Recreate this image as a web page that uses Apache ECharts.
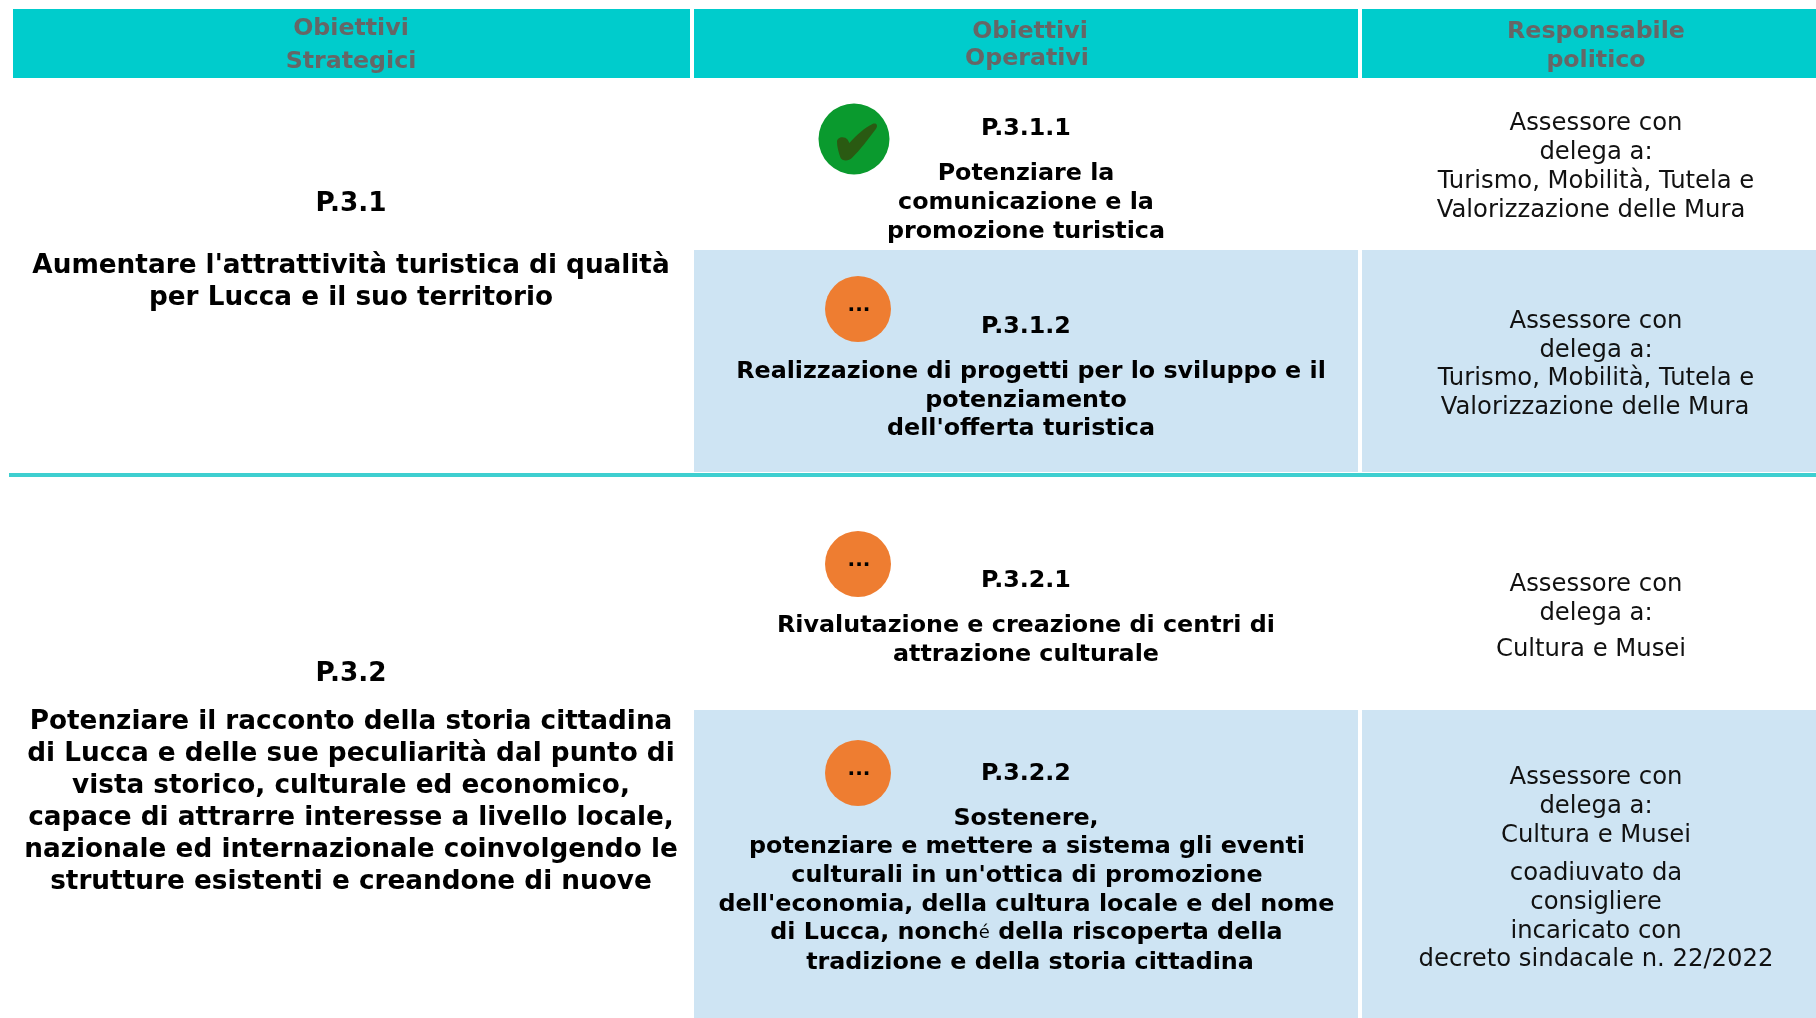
<!DOCTYPE html>
<html><head><meta charset="utf-8">
<style>html,body{margin:0;padding:0;background:#fff}#c{width:1816px;height:1018px}</style>
<script src="https://cdn.jsdelivr.net/npm/echarts@6/dist/echarts.min.js"></script>
</head><body><div id="c"></div>
<script>
// ---- text content ----
const headStrategici = ['Obiettivi', 'Strategici'];
const headOperativi = ['Obiettivi', 'Operativi'];
const headResponsabile = ['Responsabile', 'politico'];
const strategic1 = ['P.3.1', "Aumentare l'attrattività turistica di qualità", 'per Lucca e il suo territorio'];
const strategic2 = ['P.3.2', 'Potenziare il racconto della storia cittadina', 'di Lucca e delle sue peculiarità dal punto di', 'vista storico, culturale ed economico,', 'capace di attrarre interesse a livello locale,', 'nazionale ed internazionale coinvolgendo le', 'strutture esistenti e creandone di nuove'];
const op311 = ['P.3.1.1', 'Potenziare la', 'comunicazione e la', 'promozione turistica'];
const op312 = ['P.3.1.2', 'Realizzazione di progetti per lo sviluppo e il', 'potenziamento', "dell'offerta turistica"];
const op321 = ['P.3.2.1', 'Rivalutazione e creazione di centri di', 'attrazione culturale'];
const op322 = ['P.3.2.2', 'Sostenere,', 'potenziare e mettere a sistema gli eventi', "culturali in un'ottica di promozione", "dell'economia, della cultura locale e del nome", 'di Lucca, nonch{s|é} della riscoperta della', 'tradizione e della storia cittadina'];
const resp311 = ['Assessore con', 'delega a:', 'Turismo, Mobilità, Tutela e', 'Valorizzazione delle Mura'];
const resp312 = ['Assessore con', 'delega a:', 'Turismo, Mobilità, Tutela e', 'Valorizzazione delle Mura'];
const resp321 = ['Assessore con', 'delega a:', 'Cultura e Musei'];
const resp322 = ['Assessore con', 'delega a:', 'Cultura e Musei', 'coadiuvato da', 'consigliere', 'incaricato con', 'decreto sindacale n. 22/2022'];

// ---- layout ----
const W = 1816, H = 1018;
const FONT = '"DejaVu Sans", Verdana, sans-serif';
const TEAL = '#00CCCC', BLUE = '#CEE4F3', RULE = '#3ECFD0';
const HEAD = {color: '#666666', weight: 'bold', size: 23.7};
const BIG = {color: '#000', weight: 'bold', size: 26.3};
const OP = {color: '#000', weight: 'bold', size: 23.8};
const RESP = {color: '#111', weight: 'normal', size: 24.3};

const cells = [
  [13, 9, 690, 78, TEAL], [694, 9, 1358, 78, TEAL], [1362, 9, 1816, 78, TEAL],
  [694, 250, 1358, 472, BLUE], [1362, 250, 1816, 472, BLUE],
  [694, 710, 1358, 1018, BLUE], [1362, 710, 1816, 1018, BLUE],
  [9, 473, 1816, 477, RULE]
];
const blocks = [
  [headStrategici, 351, [29, 62], HEAD],
  [headOperativi, [1030, 1027], [32, 59], HEAD],
  [headResponsabile, 1596, [32, 61], HEAD],
  [strategic1, 351, [204, 266, 298], BIG],
  [strategic2, 351, [674, 722, 754, 786, 818, 850, 882], BIG],
  [op311, 1026, [129, 174, 203, 232], OP],
  [op312, [1026, 1031, 1026, 1021], [327, 372, 401, 429], OP],
  [op321, 1026, [581, 626, 655], OP],
  [op322, [1026, 1026, 1027, 1027, 1026.5, 1026.5, 1030], [774, 819, 847, 876, 905, 933, 963], OP],
  [resp311, [1596, 1596, 1596, 1591], [124, 153, 182, 211], RESP],
  [resp312, [1596, 1596, 1596, 1595], [322, 351, 379, 408], RESP],
  [resp321, [1596, 1596, 1591], [585, 614, 650], RESP],
  [resp322, 1596, [778, 807, 836, 874, 903, 932, 960], RESP]
];
const textRows = [];
blocks.forEach(([lines, x, ys, st]) => lines.forEach((t, i) =>
  textRows.push([Array.isArray(x) ? x[i] : x, ys[i], t, st.size, st.weight, st.color])));

const donePoints = [[854, 139]];
const runningPoints = [[858, 309], [858, 564], [858, 773]];
const CHECK = 'path://M2 45 C2 33 20 30 28 40 L32 48 C50 28 70 10 88 2 C98 -2 102 6 96 14 C78 38 58 64 38 84 C30 92 14 92 10 82 C6 70 2 58 2 45 Z';

const chart = echarts.init(document.getElementById('c'), null, {renderer: 'canvas'});
chart.setOption({
  animation: false,
  backgroundColor: '#fff',
  grid: {left: 0, right: 0, top: 0, bottom: 0},
  xAxis: {type: 'value', min: 0, max: W, show: false},
  yAxis: {type: 'value', min: 0, max: H, inverse: true, show: false},
  series: [
    {
      type: 'custom', silent: true, z: 1, data: cells,
      encode: {x: [0, 2], y: [1, 3]},
      renderItem(p, api) {
        const a = api.coord([api.value(0), api.value(1)]);
        const b = api.coord([api.value(2), api.value(3)]);
        return {type: 'rect', shape: {x: a[0], y: a[1], width: b[0] - a[0], height: b[1] - a[1]},
                style: {fill: cells[p.dataIndex][4]}};
      }
    },
    {type: 'scatter', z: 2, silent: true, data: donePoints, symbol: 'circle', symbolSize: 71,
     itemStyle: {color: '#0A9A2E', opacity: 1}},
    {type: 'scatter', z: 3, silent: true, data: donePoints, symbol: CHECK, symbolSize: [40, 37],
     symbolOffset: [3, 3], itemStyle: {color: '#2A5A12', opacity: 1}},
    {type: 'scatter', z: 2, silent: true, data: runningPoints, symbol: 'circle', symbolSize: 66,
     itemStyle: {color: '#EE7D31', opacity: 1},
     label: {show: true, position: 'inside', formatter: '...', color: '#000', fontFamily: FONT,
             fontWeight: 'bold', fontSize: 20, offset: [1, -3]}},
    {
      type: 'custom', silent: true, z: 5, data: textRows.map(r => [r[0], r[1]]),
      renderItem(p, api) {
        const r = textRows[p.dataIndex];
        const c = api.coord([r[0], r[1]]);
        return {type: 'text', x: c[0], y: c[1], style: {
          text: r[2], fill: r[5], align: 'center', verticalAlign: 'middle',
          font: `${r[4]} ${r[3]}px ${FONT}`,
          rich: {s: {fontFamily: FONT, fontWeight: 'normal', fontSize: 18, fill: '#000', textFill: '#000', color: '#000'}}
        }};
      }
    }
  ]
});
</script></body></html>
